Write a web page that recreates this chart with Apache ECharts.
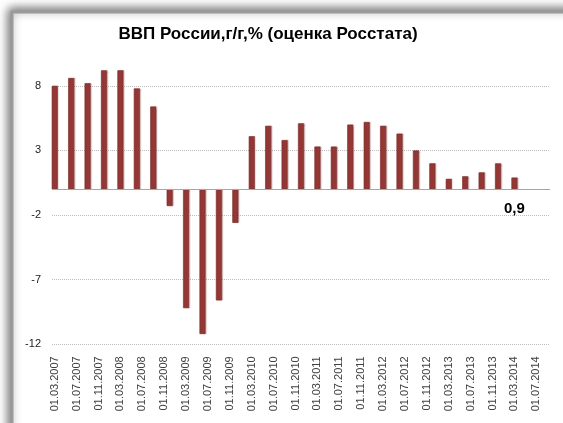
<!DOCTYPE html>
<html>
<head>
<meta charset="utf-8">
<script src="https://cdn.jsdelivr.net/npm/echarts@6/dist/echarts.min.js"></script>
<style>
html,body{margin:0;padding:0;background:#fff;}
#c{width:563px;height:423px;}
</style>
</head>
<body>
<div id="c"></div>
<script>
// Quarterly GDP y/y, % (Rosstat estimate)
const quarterDates = [
  '01.03.2007','01.06.2007','01.09.2007','01.12.2007',
  '01.03.2008','01.06.2008','01.09.2008','01.12.2008',
  '01.03.2009','01.06.2009','01.09.2009','01.12.2009',
  '01.03.2010','01.06.2010','01.09.2010','01.12.2010',
  '01.03.2011','01.06.2011','01.09.2011','01.12.2011',
  '01.03.2012','01.06.2012','01.09.2012','01.12.2012',
  '01.03.2013','01.06.2013','01.09.2013','01.12.2013',
  '01.03.2014'
];
const gdpValues = [
  8.0, 8.6, 8.2, 9.2,
  9.2, 7.8, 6.4, -1.3,
  -9.2, -11.2, -8.6, -2.6,
  4.1, 4.9, 3.8, 5.1,
  3.3, 3.3, 5.0, 5.2,
  4.9, 4.3, 3.0, 2.0,
  0.8, 1.0, 1.3, 2.0,
  0.9
];
const labelledDate = '01.03.2014';
// monthly date axis span
const axisStart = {year: 2007, month: 3};
const axisEnd = {year: 2014, month: 9};
const yTicks = {min: -12, max: 10, interval: 5};

const months = [];
for (let y = axisStart.year, m = axisStart.month; y < axisEnd.year || (y === axisEnd.year && m <= axisEnd.month); ) {
  months.push('01.' + String(m).padStart(2, '0') + '.' + y);
  m++; if (m > 12) { m = 1; y++; }
}
const seriesData = months.map(d => {
  const i = quarterDates.indexOf(d);
  if (i < 0) return '-';
  if (d === labelledDate) {
    return {
      value: gdpValues[i],
      label: {
        show: true, position: 'bottom', distance: 12,
        formatter: p => String(p.value).replace('.', ','),
        color: '#000', fontWeight: 'bold', fontSize: 15, fontFamily: 'Liberation Sans'
      }
    };
  }
  return gdpValues[i];
});

const chart = echarts.init(document.getElementById('c'), null, {renderer: 'canvas'});
chart.setOption({
  animation: false,
  backgroundColor: '#fff',
  graphic: [{
    type: 'rect', z: -10, silent: true,
    shape: {x: 12, y: 12, width: 620, height: 480},
    style: {fill: '#fff', stroke: '#9a9a9a', lineWidth: 3, shadowBlur: 10, shadowColor: 'rgba(0,0,0,0.55)', shadowOffsetX: -2, shadowOffsetY: -2}
  }],
  title: {
    text: 'ВВП России,г/г,% (оценка Росстата)',
    left: 263, top: 21, textAlign: 'center',
    textStyle: {fontFamily: 'Liberation Sans', fontWeight: 'bold', fontSize: 17, color: '#000'}
  },
  grid: {left: 52, right: 13, top: 60, bottom: 78.7, containLabel: false},
  xAxis: {
    type: 'category',
    data: months,
    boundaryGap: true,
    axisLine: {show: false, onZero: false},
    axisTick: {show: false},
    splitLine: {show: false},
    axisLabel: {
      interval: 3, rotate: 90, margin: 12,
      fontFamily: 'Liberation Sans', fontSize: 11, color: '#404040'
    }
  },
  yAxis: {
    type: 'value',
    min: yTicks.min, max: yTicks.max, interval: yTicks.interval,
    axisLine: {show: false},
    axisTick: {show: false},
    axisLabel: {showMaxLabel: false, margin: 11, fontFamily: 'Liberation Sans', fontSize: 11, color: '#222'},
    splitLine: {show: true, showMaxLine: false, lineStyle: {color: '#bdbdbd', type: [1, 1], width: 1}}
  },
  series: [{
    type: 'bar',
    data: seriesData,
    barWidth: 6,
    itemStyle: {
      color: '#953735',
      borderColor: '#7a2b2a', borderWidth: 0.6,
      shadowColor: 'rgba(120,60,60,0.35)', shadowBlur: 1, shadowOffsetX: 1, shadowOffsetY: 0
    },
    markLine: {
      silent: true, symbol: 'none',
      label: {show: false},
      lineStyle: {color: '#a6a6a6', type: 'solid', width: 1},
      data: [{yAxis: 0}]
    }
  }]
});
</script>
</body>
</html>
